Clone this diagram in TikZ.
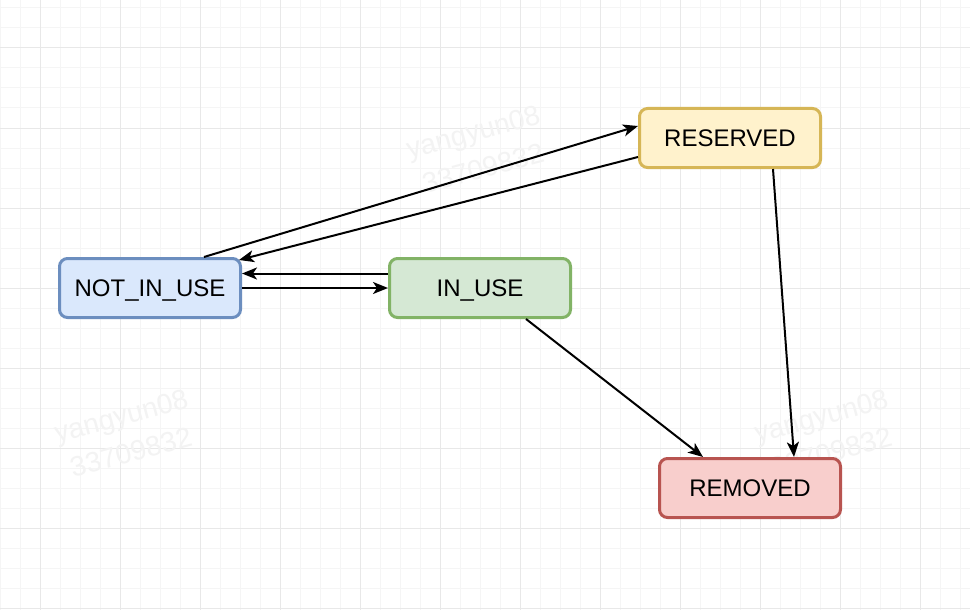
\documentclass[tikz,border=0pt]{standalone}
\usepackage{fontspec}
\setmainfont{Liberation Sans}
\usetikzlibrary{arrows.meta,calc}
\definecolor{bluefill}{HTML}{DAE8FC}\definecolor{bluedraw}{HTML}{6C8EBF}
\definecolor{greenfill}{HTML}{D5E8D4}\definecolor{greendraw}{HTML}{82B366}
\definecolor{yellowfill}{HTML}{FFF2CC}\definecolor{yellowdraw}{HTML}{D6B656}
\definecolor{redfill}{HTML}{F8CECC}\definecolor{reddraw}{HTML}{B85450}
\definecolor{gridminor}{HTML}{F5F5F5}\definecolor{gridmajor}{HTML}{E8E8E8}
\definecolor{wm}{HTML}{F3F3F3}
\begin{document}
\begin{tikzpicture}[x=1pt,y=-1pt,
  state/.style={draw, rounded corners=8pt, line width=3pt, minimum width=181pt, minimum height=59pt, inner sep=0pt, text height=17.2pt, text depth=0pt, font=\fontsize{24}{28}\selectfont},
  conn/.style={line width=2pt, -{Stealth[length=15pt,width=12pt,inset=4pt]}},
  wmark/.style={text=wm, font=\fontsize{28}{38}\selectfont, align=center, rotate=15}]
\useasboundingbox[fill=white] (0,0) rectangle (970,610);
% grid
\foreach \x in {0,20,...,960} \draw[gridminor, line width=1pt] (\x,0) -- (\x,610);
\foreach \y in {8,28,...,608} \draw[gridminor, line width=1pt] (0,\y) -- (970,\y);
\foreach \x in {40,120,...,960} \draw[gridmajor, line width=1pt] (\x,0) -- (\x,610);
\foreach \y in {48,128,...,608} \draw[gridmajor, line width=1pt] (0,\y) -- (970,\y);
% watermarks
\node[wmark] (w1) at (478,150) {yangyun08\\33709832};
\node[wmark] (w2) at (126,434) {yangyun08\\33709832};
\node[wmark] (w3) at (826,434) {yangyun08\\33709832};
% states
\node[state, fill=bluefill, draw=bluedraw] (nu) at (150,288) {NOT\_IN\_USE};
\node[state, fill=greenfill, draw=greendraw] (iu) at (480,288) {IN\_USE};
\node[state, fill=yellowfill, draw=yellowdraw] (rs) at (730,138) {RESERVED};
\node[state, fill=redfill, draw=reddraw] (rm) at (750,488) {REMOVED};
% connectors
\draw[conn] ($(nu.north west)+(146,0)$) -- ($(rs.west)+(0,-12)$);
\draw[conn] ($(rs.west)+(0,19)$) -- ($(nu.north east)+(-3,3)$);
\draw[conn] ($(iu.west)+(0,-14.5)$) -- ($(nu.east)+(0,-14.5)$);
\draw[conn] (nu.east) -- (iu.west);
\draw[conn] ($(iu.south west)+(138,0)$) -- ($(rm.north west)+(45,0)$);
\draw[conn] ($(rs.south west)+(135,0)$) -- ($(rm.north west)+(136,0)$);
\end{tikzpicture}
\end{document}
